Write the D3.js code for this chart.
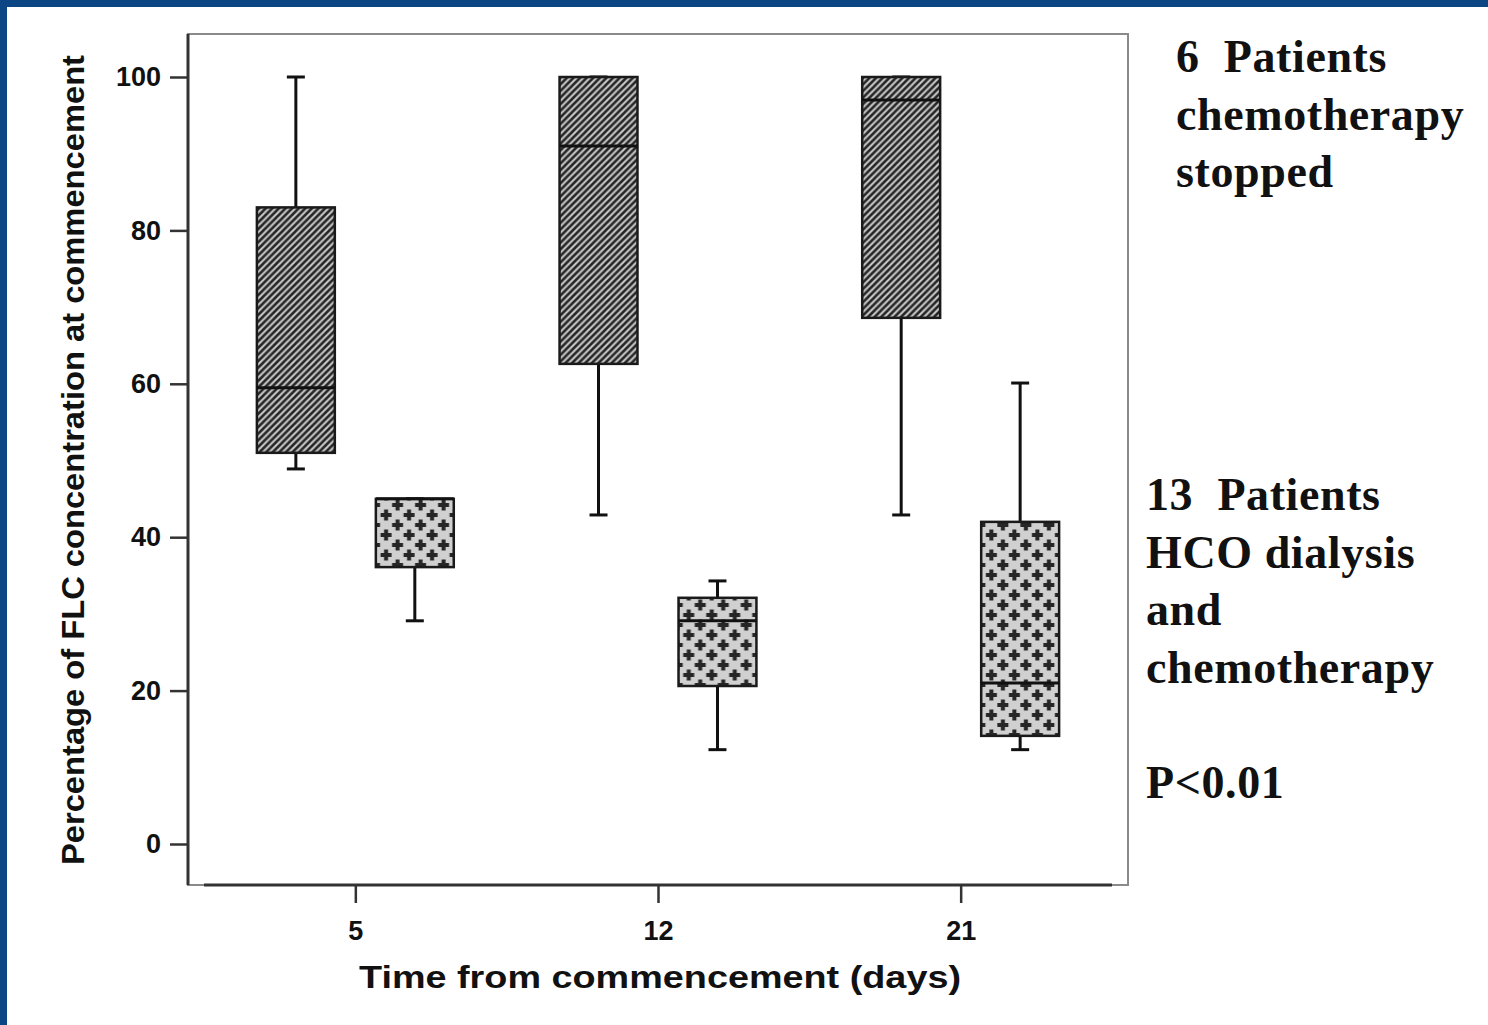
<!DOCTYPE html>
<html>
<head>
<meta charset="utf-8">
<script src="https://cdn.jsdelivr.net/npm/d3@7"></script>
<style>
  html, body { margin: 0; padding: 0; background: #ffffff; }
  svg { display: block; }
</style>
</head>
<body>
<svg id="chart" width="1488" height="1025"></svg>
<script>
// Time points (days from commencement) and the two patient groups
const categories = ["5", "12", "21"];
const groups = ["stopped", "hco"];

// Box-plot summaries, % of FLC concentration at commencement
// Group 1: chemotherapy stopped
const stoppedLow    = [48.9, 42.9, 42.9];
const stoppedQ1     = [51.0, 62.6, 68.6];
const stoppedMedian = [59.5, 91.0, 97.0];
const stoppedQ3     = [83.0, 100, 100];
const stoppedHigh   = [100, 100, 100];

// Group 2: HCO dialysis and chemotherapy
const hcoLow    = [29.1, 12.3, 12.3];
const hcoQ1     = [36.1, 20.6, 14.1];
const hcoMedian = [45.0, 29.1, 21.0];
const hcoQ3     = [45.0, 32.1, 42.0];
const hcoHigh   = [45.0, 34.3, 60.1];

const yTicks = [0, 20, 40, 60, 80, 100];

const annotationTop = ["6  Patients", "chemotherapy", "stopped"];
const annotationBottom = ["13  Patients", "HCO dialysis", "and", "chemotherapy", "", "P<0.01"];

const xTitle = "Time from commencement (days)";
const yTitle = "Percentage of FLC concentration at commencement";

// Build box records from the arrays
const boxes = [];
categories.forEach((c, i) => {
  boxes.push({ cat: c, group: "stopped", low: stoppedLow[i], q1: stoppedQ1[i], med: stoppedMedian[i], q3: stoppedQ3[i], high: stoppedHigh[i] });
  boxes.push({ cat: c, group: "hco", low: hcoLow[i], q1: hcoQ1[i], med: hcoMedian[i], q3: hcoQ3[i], high: hcoHigh[i] });
});

const svg = d3.select("#chart");

// Slide frame: blue bars along the top and left edges
svg.append("rect").attr("x", 0).attr("y", 0).attr("width", 1488).attr("height", 7).attr("fill", "#0b4584");
svg.append("rect").attr("x", 0).attr("y", 0).attr("width", 7).attr("height", 1025).attr("fill", "#0b4584");

// Plot area
const plot = { left: 188, right: 1128, top: 34, bottom: 885 };

const x = d3.scalePoint().domain(categories).range([204, 1112]).padding(0.5);
const y = d3.scaleLinear().domain([0, 100]).range([844, 77]);
const xInner = d3.scaleBand().domain(groups).range([-119.5, 119.5]).paddingInner(0.345).paddingOuter(0.177);

// Fill patterns
const defs = svg.append("defs");

const soft = defs.append("filter").attr("id", "soft");
soft.append("feGaussianBlur").attr("stdDeviation", 0.45);

const hatch = defs.append("pattern")
  .attr("id", "hatch")
  .attr("patternUnits", "userSpaceOnUse")
  .attr("width", 6.6).attr("height", 6.6);
hatch.append("rect").attr("width", 6.6).attr("height", 6.6).attr("fill", "#c8c8c8");
hatch.append("path")
  .attr("d", "M-1.65,1.65 L1.65,-1.65 M0,6.6 L6.6,0 M4.95,8.25 L8.25,4.95")
  .attr("stroke", "#262626").attr("stroke-width", 2.6);

const cross = defs.append("pattern")
  .attr("id", "cross")
  .attr("patternUnits", "userSpaceOnUse")
  .attr("width", 23).attr("height", 20);
cross.append("rect").attr("width", 23).attr("height", 20).attr("fill", "#d0d0d0");
const plus = (cx, cy) => `M${cx - 5.5},${cy - 2}h11v4h-11z M${cx - 2},${cy - 5.5}h4v11h-4z`;
cross.append("path")
  .attr("d", [plus(5.75, 5), plus(17.25, 15), plus(-5.75, 15), plus(28.75, 5),
              plus(17.25, -5), plus(5.75, 25), plus(-5.75, -5), plus(28.75, 25)].join(" "))
  .attr("fill", "#262626");

// Frame around the plot area
svg.append("rect")
  .attr("x", plot.left).attr("y", plot.top)
  .attr("width", plot.right - plot.left).attr("height", plot.bottom - plot.top)
  .attr("fill", "none").attr("stroke", "#8a8a8a").attr("stroke-width", 2);

const sans = "'Liberation Sans', Arial, sans-serif";

// Y axis
const yAxis = svg.append("g")
  .attr("transform", `translate(${plot.left},0)`)
  .call(d3.axisLeft(y).tickValues(yTicks).tickSize(18).tickPadding(9).tickFormat(d3.format("d")));
yAxis.select(".domain").attr("d", `M0,${plot.top}V${plot.bottom}`).attr("stroke", "#333").attr("stroke-width", 3);
yAxis.selectAll(".tick line").attr("stroke", "#333").attr("stroke-width", 2.5);
yAxis.selectAll(".tick text")
  .attr("fill", "#111")
  .style("font-family", sans)
  .style("font-weight", "bold")
  .style("font-size", "27px");

// X axis
const xAxis = svg.append("g")
  .attr("transform", `translate(0,${plot.bottom})`)
  .call(d3.axisBottom(x).tickSize(18).tickPadding(18));
xAxis.select(".domain").attr("d", "M204,0H1112").attr("stroke", "#333").attr("stroke-width", 3);
xAxis.selectAll(".tick line").attr("stroke", "#333").attr("stroke-width", 2.5);
xAxis.selectAll(".tick text")
  .attr("fill", "#111")
  .style("font-family", sans)
  .style("font-weight", "bold")
  .style("font-size", "27px");

// Axis titles
svg.append("text")
  .attr("x", 660).attr("y", 988)
  .attr("text-anchor", "middle")
  .attr("textLength", 602).attr("lengthAdjust", "spacingAndGlyphs")
  .style("font-family", sans)
  .style("font-weight", "bold")
  .style("font-size", "32px")
  .attr("fill", "#111")
  .text(xTitle);

svg.append("text")
  .attr("transform", "translate(84,460) rotate(-90)")
  .attr("text-anchor", "middle")
  .attr("textLength", 810).attr("lengthAdjust", "spacingAndGlyphs")
  .style("font-family", sans)
  .style("font-weight", "bold")
  .style("font-size", "32px")
  .attr("fill", "#111")
  .text(yTitle);

// Boxes
const capHalf = 9;
const gBox = svg.append("g").selectAll("g")
  .data(boxes)
  .join("g")
  .attr("transform", d => `translate(${x(d.cat) + xInner(d.group) + xInner.bandwidth() / 2},0)`);

const bw = xInner.bandwidth();

// whiskers
gBox.append("line")
  .attr("x1", 0).attr("x2", 0)
  .attr("y1", d => y(d.q3)).attr("y2", d => y(d.high))
  .attr("stroke", "#111").attr("stroke-width", 3);
gBox.append("line")
  .attr("x1", 0).attr("x2", 0)
  .attr("y1", d => y(d.q1)).attr("y2", d => y(d.low))
  .attr("stroke", "#111").attr("stroke-width", 3);
gBox.append("line")
  .attr("x1", -capHalf).attr("x2", capHalf)
  .attr("y1", d => y(d.high)).attr("y2", d => y(d.high))
  .attr("stroke", "#111").attr("stroke-width", 3);
gBox.append("line")
  .attr("x1", -capHalf).attr("x2", capHalf)
  .attr("y1", d => y(d.low)).attr("y2", d => y(d.low))
  .attr("stroke", "#111").attr("stroke-width", 3);

// box body
gBox.append("rect")
  .attr("x", -bw / 2).attr("width", bw)
  .attr("y", d => y(d.q3)).attr("height", d => y(d.q1) - y(d.q3))
  .attr("fill", d => d.group === "stopped" ? "url(#hatch)" : "url(#cross)")
  .attr("filter", "url(#soft)");
gBox.append("rect")
  .attr("x", -bw / 2).attr("width", bw)
  .attr("y", d => y(d.q3)).attr("height", d => y(d.q1) - y(d.q3))
  .attr("fill", "none")
  .attr("stroke", "#1a1a1a").attr("stroke-width", 2.5);

// median
gBox.append("line")
  .attr("x1", -bw / 2).attr("x2", bw / 2)
  .attr("y1", d => y(d.med)).attr("y2", d => y(d.med))
  .attr("stroke", "#111").attr("stroke-width", 3);

// Group annotations on the right
const serif = "'Liberation Serif', 'Times New Roman', serif";
function block(lines, x0, y0) {
  const t = svg.append("text")
    .attr("x", x0).attr("y", y0)
    .style("font-family", serif)
    .style("font-weight", "bold")
    .style("font-size", "46px")
    .style("letter-spacing", "0.6px")
    .style("white-space", "pre")
    .attr("fill", "#111");
  t.selectAll("tspan")
    .data(lines)
    .join("tspan")
    .attr("x", x0)
    .attr("y", (d, i) => y0 + i * 57.5)
    .text(d => d);
}
block(annotationTop, 1176, 72);
block(annotationBottom, 1146, 510);
</script>
</body>
</html>
